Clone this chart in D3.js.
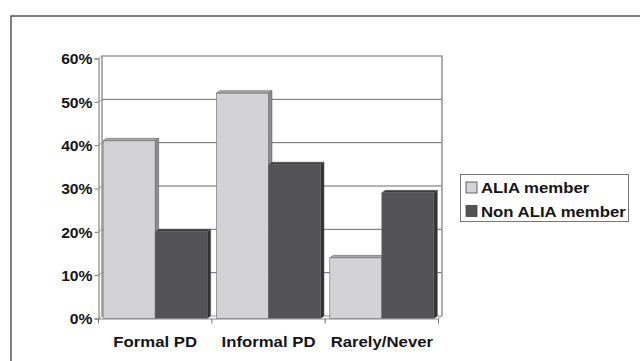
<!DOCTYPE html>
<html>
<head>
<meta charset="utf-8">
<script src="https://cdn.jsdelivr.net/npm/d3@7"></script>
<style>
  html, body { margin: 0; padding: 0; background: #fff; }
  svg { display: block; }
  text { font-family: "Liberation Sans", Arial, sans-serif; font-weight: bold; fill: #151515; }
</style>
</head>
<body>
<svg id="chart" width="640" height="361"></svg>
<script>
const categories = ["Formal PD", "Informal PD", "Rarely/Never"];
const seriesNames = ["ALIA member", "Non ALIA member"];
const aliaMember = [0.41, 0.52, 0.14];
const nonAliaMember = [0.20, 0.355, 0.29];
const yTicks = [0, 0.1, 0.2, 0.3, 0.4, 0.5, 0.6];

const seriesValues = [aliaMember, nonAliaMember];
const frontColors = ["#d3d3d5", "#535355"];
const sideColors = ["#8c8c8e", "#333335"];
const topColors = ["#a9a9ab", "#3a3a3c"];

const svg = d3.select("#chart");
const stretch = 1.08;

// outer frame
svg.append("rect").attr("x", 11).attr("y", 16).attr("width", 700).attr("height", 400)
  .attr("fill", "none").attr("stroke", "#555").attr("stroke-width", 1.5);

const x0 = 98.5, x1 = 438.5;
const dx = 3.5, dy = -2.5;
const x = d3.scaleBand().domain(categories).range([x0, x1]).paddingInner(0.082).paddingOuter(0.041);
const xs = d3.scaleBand().domain(seriesNames).range([0, x.bandwidth()]);
const y = d3.scaleLinear().domain([0, 0.6]).range([318.5, 58.5]);

const g = svg.append("g");

// back wall gridlines
g.selectAll("line.grid").data(yTicks.slice(1, -1)).join("line")
  .attr("class", "grid")
  .attr("x1", x0 + dx).attr("x2", x1 + dx)
  .attr("y1", d => y(d) + dy).attr("y2", d => y(d) + dy)
  .attr("stroke", "#6a6a6a").attr("stroke-width", 1);
// side wall diagonal connectors
g.selectAll("line.conn").data(yTicks).join("line")
  .attr("class", "conn")
  .attr("x1", x0).attr("x2", x0 + dx)
  .attr("y1", d => y(d)).attr("y2", d => y(d) + dy)
  .attr("stroke", "#999").attr("stroke-width", 1);
// back wall frame
g.append("path")
  .attr("d", `M${x0 + dx},${y(0) + dy}V${y(0.6) + dy}H${x1 + dx}V${y(0) + dy}`)
  .attr("fill", "none").attr("stroke", "#9a9a9a").attr("stroke-width", 1.6);
// floor back edge
g.append("line").attr("x1", x0 + dx).attr("x2", x1 + dx)
  .attr("y1", y(0) + dy).attr("y2", y(0) + dy).attr("stroke", "#9a9a9a").attr("stroke-width", 1);
g.append("line").attr("x1", x1).attr("x2", x1 + dx)
  .attr("y1", y(0)).attr("y2", y(0) + dy).attr("stroke", "#9a9a9a").attr("stroke-width", 1);

// bars
const groups = g.selectAll("g.cat").data(categories).join("g")
  .attr("class", "cat").attr("transform", d => `translate(${x(d)},0)`);
seriesNames.forEach((s, si) => {
  groups.each(function(c, ci) {
    const v = seriesValues[si][ci];
    const bx = xs(s), bw = xs.bandwidth();
    const top = y(v), bot = y(0);
    const el = d3.select(this);
    el.append("path")
      .attr("d", `M${bx + bw},${top}L${bx + bw + dx},${top + dy}L${bx + bw + dx},${bot + dy}L${bx + bw},${bot}Z`)
      .attr("fill", sideColors[si]).attr("stroke", "#555").attr("stroke-width", 0.5);
    el.append("path")
      .attr("d", `M${bx},${top}L${bx + dx},${top + dy}L${bx + bw + dx},${top + dy}L${bx + bw},${top}Z`)
      .attr("fill", topColors[si]).attr("stroke", "#555").attr("stroke-width", 0.5);
    el.append("rect").attr("x", bx).attr("y", top).attr("width", bw).attr("height", bot - top)
      .attr("fill", frontColors[si]).attr("stroke", "#666").attr("stroke-width", 0.6);
  });
});

// front axes
const yAxis = d3.axisLeft(y).tickValues(yTicks).tickFormat(d3.format(".0%")).tickSize(4).tickPadding(2);
const ya = svg.append("g").attr("transform", `translate(${x0},0)`).call(yAxis);
ya.select(".domain").attr("stroke", "#888").attr("stroke-width", 1.2);
ya.selectAll(".tick line").attr("stroke", "#777");
ya.selectAll(".tick text").attr("font-size", 14.5).attr("fill", "#151515")
  .attr("font-family", "Liberation Sans, Arial, sans-serif").attr("font-weight", "bold").attr("dy", "0.36em");

const xAxis = d3.axisBottom(x).tickSize(0).tickPadding(17);
const xa = svg.append("g").attr("transform", `translate(0,${y(0)})`).call(xAxis);
xa.select(".domain").attr("stroke", "#888").attr("stroke-width", 1.2);
xa.selectAll(".tick text").attr("font-size", 15.5).attr("fill", "#151515")
  .attr("font-family", "Liberation Sans, Arial, sans-serif").attr("font-weight", "bold");
const bounds = [x0].concat(categories.map(c => x(c) + x.bandwidth() + x.step() * x.paddingInner() / 2));
xa.selectAll("line.bt").data(bounds).join("line").attr("class", "bt")
  .attr("x1", d => d).attr("x2", d => d).attr("y1", 0).attr("y2", 5).attr("stroke", "#777");

// legend
const lg = svg.append("g");
lg.append("rect").attr("x", 460.5).attr("y", 174.5).attr("width", 168).attr("height", 47)
  .attr("fill", "#fff").attr("stroke", "#777").attr("stroke-width", 1);
const leg = lg.selectAll("g.item").data(seriesNames).join("g").attr("class", "item")
  .attr("transform", (d, i) => `translate(466,${182 + i * 23.5})`);
leg.append("rect").attr("width", 11).attr("height", 11)
  .attr("fill", (d, i) => frontColors[i]).attr("stroke", "#444").attr("stroke-width", 0.8);
leg.append("text").attr("x", 15).attr("y", 11).attr("font-size", 15.5).text(d => d);

svg.selectAll("text").each(function() {
  const len = this.getComputedTextLength();
  d3.select(this).attr("textLength", len * stretch).attr("lengthAdjust", "spacingAndGlyphs");
});
</script>
</body>
</html>
